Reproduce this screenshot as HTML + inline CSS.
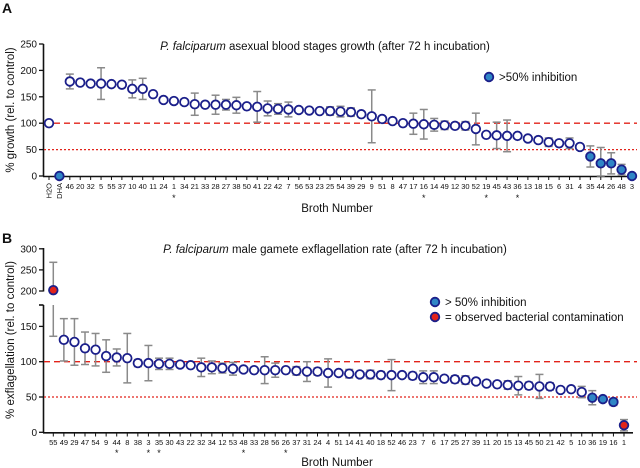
<!DOCTYPE html>
<html><head><meta charset="utf-8"><style>
body{margin:0;background:#fff;font-family:"Liberation Sans",Arial,sans-serif}
svg{display:block}
</style></head><body>
<svg id="chart" width="640" height="468" viewBox="0 0 640 468" xmlns="http://www.w3.org/2000/svg" font-family="Liberation Sans, Arial, sans-serif"></svg>
<script>
const catsA=["H2O","DHA","46","20","32","5","55","37","10","40","11","24","1","34","21","33","28","27","38","50","41","22","42","7","56","53","23","25","54","39","29","9","51","8","47","17","16","14","49","12","30","52","19","45","43","36","13","18","15","6","31","4","35","44","26","48","3"];
const valsA=[100,0,179,177,175,175,174,173,165,165,155,144,142,140,136,135,135,135,134,132,131,128,127,126,125,124,123,123,122,121,117,113,108,104,100,99,98,97,96,95,95,89,78,77,76,76,71,68,64,62,62,55,37,24,24,12,0];
const errA=[0,0,14,0,0,30,0,0,17,20,0,0,0,0,21,0,18,10,15,0,29,14,10,14,0,0,0,8,10,8,5,50,0,0,5,20,28,12,8,5,8,30,0,25,30,0,0,0,8,5,10,0,20,30,20,10,0];
const filledA=["DHA","35","44","26","48","3"];
const starsA=["1","16","19","36"];

const catsB=["55","49","29","47","54","9","44","8","38","3","35","30","43","22","32","34","12","53","48","33","28","56","26","37","31","24","4","51","14","41","40","18","52","46","23","7","6","17","25","27","39","11","20","15","13","45","50","21","42","5","10","36","19","16","1"];
const valsB=[202,131,128,119,117,108,106,105,98,98,97,97,96,95,92,92,91,90,89,88,88,88,88,87,86,86,84,84,83,82,82,81,81,81,80,78,78,76,75,74,72,69,68,67,66,66,65,65,60,61,57,49,47,43,10];
const errB=[66,30,33,23,23,23,12,35,5,25,8,8,3,0,13,9,7,9,0,0,19,10,0,6,14,5,20,0,6,0,6,5,22,0,5,9,9,0,5,6,0,0,0,6,13,5,17,5,0,0,8,10,0,5,8];
const blueB=["36","19","16"];
const redB=["55","1"];
const starsB=["44","3","35","48","26"];

const NS="http://www.w3.org/2000/svg";
const svg=document.getElementById('chart');
function mk(tag,attrs,parent){const e=document.createElementNS(NS,tag);for(const k in attrs)e.setAttribute(k,attrs[k]);(parent||svg).appendChild(e);return e;}
function txt(x,y,s,attrs){const e=mk('text',Object.assign({x:x,y:y,'font-size':11,fill:'#111'},attrs||{}));e.textContent=s;return e;}
const NAVY="#1b1f8a",BLUE="#2f86c6",RED="#e2231a",GRAY="#8a8a8a";

// ===== Panel A =====
const xA=i=>49+i*(632-49)/(catsA.length-1);
const yA=v=>176-v*0.528;
let t;
t=txt(2,13,"A",{'font-size':14,'font-weight':'bold'});

t=txt(325,50,"",{'font-size':11.5,'text-anchor':'middle'});
t.innerHTML='<tspan font-style="italic">P. falciparum</tspan> asexual blood stages growth (after 72 h incubation)';

t=txt(0,0,"% growth (rel. to control)",{'font-size':11.5,'text-anchor':'middle',transform:'translate(14,110) rotate(-90)'});

t=txt(337,212,"Broth Number",{'font-size':11.5,'text-anchor':'middle'});

// axes
let a=mk('line',{x1:43.5,y1:44,x2:43.5,y2:176.5,stroke:'#111','stroke-width':1.6});

a=mk('line',{x1:43,y1:176.5,x2:637,y2:176.5,stroke:'#111','stroke-width':1.6});

[0,50,100,150,200,250].forEach(v=>{
  const l=mk('line',{x1:39,x2:43.5,y1:yA(v),y2:yA(v),stroke:'#111','stroke-width':1.3});
  
  const tt=txt(37,yA(v)+3.5,String(v),{'font-size':10,'text-anchor':'end'});
  
});
let r=mk('line',{x1:44,x2:637,y1:yA(100),y2:yA(100),stroke:RED,'stroke-width':1.3,'stroke-dasharray':'6,4'});

r=mk('line',{x1:44,x2:637,y1:yA(50),y2:yA(50),stroke:RED,'stroke-width':1.3,'stroke-dasharray':'2,2'});

catsA.forEach((c,i)=>{
  const x=xA(i);
  const tk=mk('line',{x1:x,x2:x,y1:176.5,y2:180,stroke:'#111','stroke-width':1});
  
  let lab;
  if(i<2){lab=txt(0,0,c,{'font-size':7.5,'text-anchor':'end',transform:`translate(${x+2.5},183) rotate(-90)`});}
  else lab=txt(x,189,c,{'font-size':7.5,'text-anchor':'middle'});
  
  if(starsA.includes(c)){const s=txt(x,201,"*",{'font-size':9,'text-anchor':'middle'});}
  const v=valsA[i],e=errA[i];
  if(e>0){const g=mk('g',{stroke:GRAY,'stroke-width':1.5});
    
    mk('line',{x1:x,x2:x,y1:yA(v+e),y2:yA(Math.max(0,v-e))},g);
    mk('line',{x1:x-4,x2:x+4,y1:yA(v+e),y2:yA(v+e)},g);
    mk('line',{x1:x-4,x2:x+4,y1:yA(Math.max(0,v-e)),y2:yA(Math.max(0,v-e))},g);}
  const f=filledA.includes(c);
  const p=mk('circle',{cx:x,cy:yA(v),r:4.3,fill:f?BLUE:'#fff',stroke:NAVY,'stroke-width':1.8});
  
});
let lg=mk('circle',{cx:489,cy:77,r:4.3,fill:BLUE,stroke:NAVY,'stroke-width':1.8});

t=txt(499,81,">50% inhibition",{'font-size':11.5});


// ===== Panel B =====
const xB=i=>53.3+i*(624-53.3)/(catsB.length-1);
const yBl=v=>432.3-v*0.706;
const yBu=v=>291-(v-200)*0.422;
const yB=v=>v>=190?yBu(v):yBl(v);
t=txt(2,243,"B",{'font-size':14,'font-weight':'bold'});

t=txt(335,253,"",{'font-size':11.5,'text-anchor':'middle'});
t.innerHTML='<tspan font-style="italic">P. falciparum</tspan> male gamete exflagellation rate (after 72 h incubation)';

t=txt(0,0,"% exflagellation (rel. to control)",{'font-size':11.5,'text-anchor':'middle',transform:'translate(14,340) rotate(-90)'});

t=txt(337,466,"Broth Number",{'font-size':11.5,'text-anchor':'middle'});

a=mk('line',{x1:43.5,y1:248,x2:43.5,y2:291.5,stroke:'#111','stroke-width':1.6});

a=mk('line',{x1:43.5,y1:305,x2:43.5,y2:433,stroke:'#111','stroke-width':1.6});

a=mk('line',{x1:39,y1:305,x2:43.5,y2:305,stroke:'#111','stroke-width':1.6});

a=mk('line',{x1:43,y1:432.8,x2:633,y2:432.8,stroke:'#111','stroke-width':1.6});

[0,50,100,150,200,250,300].forEach(v=>{
  const y=yB(v);
  const l=mk('line',{x1:39,x2:43.5,y1:y,y2:y,stroke:'#111','stroke-width':1.3});
  
  const tt=txt(37,y+3.5,String(v),{'font-size':10,'text-anchor':'end'});
  
});
r=mk('line',{x1:44,x2:637,y1:yBl(100),y2:yBl(100),stroke:RED,'stroke-width':1.3,'stroke-dasharray':'6,4'});

r=mk('line',{x1:44,x2:637,y1:yBl(50),y2:yBl(50),stroke:RED,'stroke-width':1.3,'stroke-dasharray':'2,2'});

catsB.forEach((c,i)=>{
  const x=xB(i);
  const tk=mk('line',{x1:x,x2:x,y1:432.8,y2:436.5,stroke:'#111','stroke-width':1});
  
  const lab=txt(x,445,c,{'font-size':7.5,'text-anchor':'middle'});
  
  if(starsB.includes(c)){const s=txt(x,456,"*",{'font-size':9,'text-anchor':'middle'});}
  const v=valsB[i],e=errB[i];
  if(e>0){const g=mk('g',{stroke:GRAY,'stroke-width':1.5});
    
    const hi=v+e,lo=Math.max(0,v-e);
    if(v>=190){
      mk('line',{x1:x,x2:x,y1:yBu(hi),y2:yBu(200)},g);
      mk('line',{x1:x,x2:x,y1:305,y2:yBl(lo)},g);
    } else mk('line',{x1:x,x2:x,y1:yB(hi),y2:yB(lo)},g);
    mk('line',{x1:x-4,x2:x+4,y1:yB(hi),y2:yB(hi)},g);
    mk('line',{x1:x-4,x2:x+4,y1:yBl(lo),y2:yBl(lo)},g);}
  const fill=redB.includes(c)?RED:(blueB.includes(c)?BLUE:'#fff');
  const p=mk('circle',{cx:x,cy:yB(v),r:4.3,fill:fill,stroke:NAVY,'stroke-width':1.8});
  
});
lg=mk('circle',{cx:435,cy:302,r:4.3,fill:BLUE,stroke:NAVY,'stroke-width':1.8});

t=txt(445,306,"> 50% inhibition",{'font-size':11.5});

lg=mk('circle',{cx:435,cy:317,r:4.3,fill:RED,stroke:NAVY,'stroke-width':1.8});

t=txt(445,321,"= observed bacterial contamination",{'font-size':11.5});

</script>
</body></html>
